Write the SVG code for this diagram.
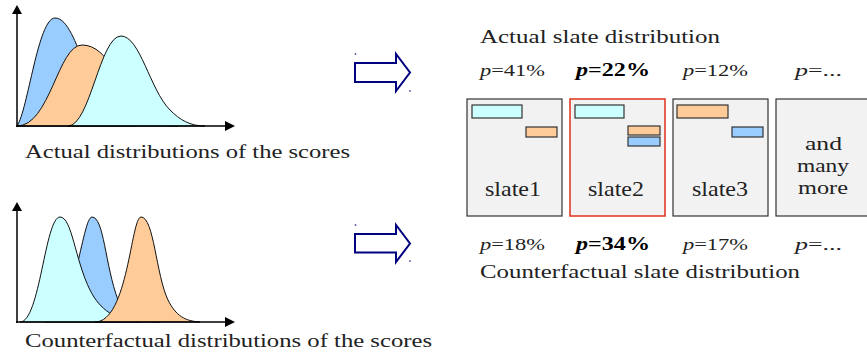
<svg xmlns="http://www.w3.org/2000/svg" width="867" height="356" viewBox="0 0 867 356">
<style>
  .axis { stroke: #000; stroke-width: 1.5; fill: none; }
  .head { fill: #000; stroke: none; }
  .curve { stroke: #111; stroke-width: 1; }
  .blue { fill: #99ccff; }
  .orange { fill: #ffcc99; }
  .cyan { fill: #ccffff; }
  text { font-family: "Liberation Serif", "DejaVu Serif", serif; fill: #222; }
  .cap { font-size: 19px; }
  .p { font-size: 17px; }
  .pb { font-size: 18px; font-weight: bold; fill: #000; }
  .box { fill: #f2f2f2; stroke: #333; stroke-width: 1.2; }
  .sel { fill: #f2f2f2; stroke: #e0301a; stroke-width: 1.5; }
  .bar { stroke: #333; stroke-width: 1.2; }
  .barrow { fill: #fff; stroke: #000080; stroke-width: 2; stroke-linejoin: miter; }
  .dot { fill: #5555aa; }
  .lbl { font-size: 21px; }
  .more { font-size: 18px; }
</style>

<g id="chart-actual">
  <path class="curve blue" d="M17,126 C28,110 38,18 55,18 C68,18 76,45 84,62 C95,90 105,118 135,126 Z"/>
  <path class="curve orange" d="M17,126 C50,126 58,45 82,45 C110,45 120,90 140,112 C150,122 160,126 178,126 Z"/>
  <path class="curve cyan" d="M68,126 C90,126 100,36 121,36 C140,36 150,90 170,110 C180,120 190,126 205,126 Z"/>
  <line class="axis" x1="17" y1="127" x2="17" y2="12"/>
  <line class="axis" x1="16" y1="126" x2="228" y2="126"/>
  <polygon class="head" points="17,5 12,14 22,14"/>
  <polygon class="head" points="235,126 225,121 225,131"/>
  <text class="cap" x="25" y="158" textLength="325" lengthAdjust="spacingAndGlyphs">Actual distributions of the scores</text>
</g>

<g id="chart-counterfactual">
  <path class="curve blue" d="M45,322 C75,322 82,217 92,217 C104,217 105,265 118,300 C125,316 135,322 160,322 Z"/>
  <path class="curve cyan" d="M20,322 C40,322 45,217 60,217 C72,217 75,260 90,290 C100,310 115,320 140,322 Z"/>
  <path class="curve orange" d="M95,322 C128,322 131,217 141,217 C154,217 156,275 168,300 C176,316 185,321 200,322 Z"/>
  <line class="axis" x1="17" y1="323" x2="17" y2="209"/>
  <line class="axis" x1="16" y1="322" x2="228" y2="322"/>
  <polygon class="head" points="17,202 12,211 22,211"/>
  <polygon class="head" points="235,322 225,317 225,327"/>
  <text class="cap" x="25" y="347" textLength="407" lengthAdjust="spacingAndGlyphs">Counterfactual distributions of the scores</text>
</g>

<g id="arrow-top">
  <polygon class="barrow" points="355,63 396,63 396,54 410,72.5 396,91 396,82 355,82"/>
  <circle class="dot" cx="355.5" cy="54" r="0.9"/>
  <circle class="dot" cx="410" cy="91" r="0.9"/>
</g>
<g id="arrow-bottom">
  <polygon class="barrow" points="355,234 396,234 396,225 410,243.5 396,262 396,252.5 355,252.5"/>
  <circle class="dot" cx="355.5" cy="225" r="0.9"/>
  <circle class="dot" cx="410" cy="261" r="0.9"/>
</g>

<g id="actual-label">
  <text class="cap" x="480" y="43" textLength="240" lengthAdjust="spacingAndGlyphs">Actual slate distribution</text>
  <text class="p" x="480" y="76" textLength="65" lengthAdjust="spacingAndGlyphs"><tspan font-style="italic">p</tspan>=41%</text>
  <text class="pb" x="576" y="76" textLength="74" lengthAdjust="spacingAndGlyphs"><tspan font-style="italic">p</tspan>=22%</text>
  <text class="p" x="683" y="76" textLength="65" lengthAdjust="spacingAndGlyphs"><tspan font-style="italic">p</tspan>=12%</text>
  <text class="p" x="795" y="76" textLength="47" lengthAdjust="spacingAndGlyphs"><tspan font-style="italic">p</tspan>=...</text>
</g>

<g id="slate1">
  <rect class="box" x="467" y="99" width="95" height="117"/>
  <rect class="bar cyan" x="472" y="105" width="50" height="13"/>
  <rect class="bar orange" x="526" y="127" width="31" height="10"/>
  <text class="lbl" x="485" y="196" textLength="56" lengthAdjust="spacingAndGlyphs">slate1</text>
</g>
<g id="slate2">
  <rect class="sel" x="570" y="99" width="95" height="117"/>
  <rect class="bar cyan" x="575" y="105" width="49" height="13"/>
  <rect class="bar orange" x="628" y="126" width="32" height="9"/>
  <rect class="bar blue" x="628" y="137" width="32" height="9"/>
  <text class="lbl" x="588" y="196" textLength="56" lengthAdjust="spacingAndGlyphs">slate2</text>
</g>
<g id="slate3">
  <rect class="box" x="673" y="99" width="95" height="117"/>
  <rect class="bar orange" x="677" y="105" width="51" height="13"/>
  <rect class="bar blue" x="732" y="127" width="31" height="10"/>
  <text class="lbl" x="692" y="196" textLength="56" lengthAdjust="spacingAndGlyphs">slate3</text>
</g>
<g id="many-more">
  <rect class="box" x="776" y="99" width="95" height="117"/>
  <text class="more" x="805" y="150" textLength="37" lengthAdjust="spacingAndGlyphs">and</text>
  <text class="more" x="797" y="172" textLength="52" lengthAdjust="spacingAndGlyphs">many</text>
  <text class="more" x="798" y="194" textLength="50" lengthAdjust="spacingAndGlyphs">more</text>
</g>

<g id="counterfactual-label">
  <text class="p" x="480" y="250" textLength="65" lengthAdjust="spacingAndGlyphs"><tspan font-style="italic">p</tspan>=18%</text>
  <text class="pb" x="576" y="250" textLength="74" lengthAdjust="spacingAndGlyphs"><tspan font-style="italic">p</tspan>=34%</text>
  <text class="p" x="683" y="250" textLength="65" lengthAdjust="spacingAndGlyphs"><tspan font-style="italic">p</tspan>=17%</text>
  <text class="p" x="795" y="250" textLength="47" lengthAdjust="spacingAndGlyphs"><tspan font-style="italic">p</tspan>=...</text>
  <text class="cap" x="480" y="278" textLength="320" lengthAdjust="spacingAndGlyphs">Counterfactual slate distribution</text>
</g>
</svg>
